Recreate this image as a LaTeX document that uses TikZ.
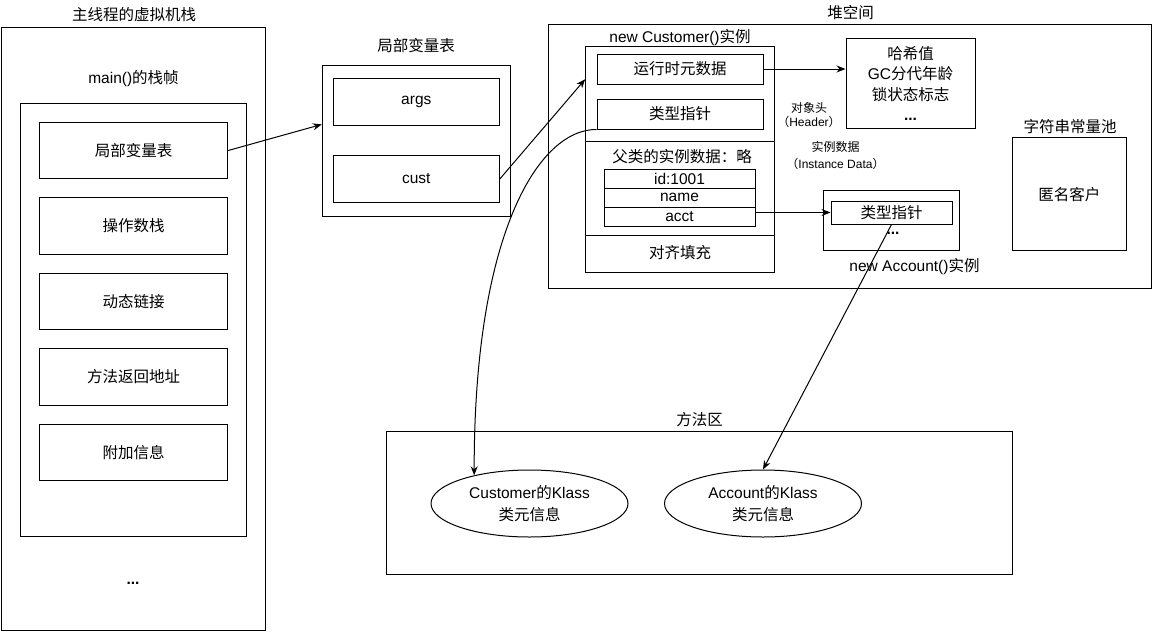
\documentclass[tikz,border=0pt]{standalone}
\usepackage{fontspec}
\setmainfont{Liberation Sans}
\newfontfamily\cjk{Noto Sans CJK SC}
\usepackage{tikz}
\usetikzlibrary{arrows.meta,shapes.geometric}

\begin{document}
\begin{tikzpicture}[x=1pt,y=-1pt,
		every node/.style={font=\fontsize{15.5}{18}\selectfont,inner sep=0pt},
		box/.style={draw,line width=1pt,inner sep=0pt},
		small/.style={font=\fontsize{12}{14.3}\selectfont,align=center},
		klass/.style={ellipse,draw,line width=1pt,minimum width=197pt,minimum height=67pt,
				align=center,font=\fontsize{15.5}{22.5}\selectfont},
		link/.style={line width=1pt,-{Stealth[length=9pt,width=7pt]}},
	]
	\def\zh#1{{\cjk #1}}
	\useasboundingbox (0,0) rectangle (1153,632);

	% stack of the main thread
	\node (stacktitle) at (134,15) {\zh{主线程的虚拟机栈}};
	\node[box,minimum width=264,minimum height=603] (stack) at (133.7,329.2) {};
	\node (frametitle) at (133.5,78.3) {main()\zh{的栈帧}};
	\node[box,minimum width=226,minimum height=433.4] (frame) at (133.7,320) {};
	\node[box,minimum width=188.4,minimum height=56.4] (lvt) at (133.5,150.5) {\zh{局部变量表}};
	\node[box,minimum width=188.4,minimum height=56.4] (opstack) at (133.5,226) {\zh{操作数栈}};
	\node[box,minimum width=188.4,minimum height=56.4] (dynlink) at (133.5,301.5) {\zh{动态链接}};
	\node[box,minimum width=188.4,minimum height=56.4] (retaddr) at (133.5,377) {\zh{方法返回地址}};
	\node[box,minimum width=188.4,minimum height=56.4] (extra) at (133.5,452.5) {\zh{附加信息}};
	\node (stackdots) at (133,583) {\textbf{...}};

	% local variable table
	\node (lvtitle) at (416,46) {\zh{局部变量表}};
	\node[box,minimum width=188,minimum height=150.3] (lvbox) at (416.3,140.9) {};
	\node[box,minimum width=166,minimum height=46.7] (args) at (416.3,102.3) {args};
	\node[box,minimum width=166,minimum height=46.7] (cust) at (416.3,179) {cust};

	% heap
	\node (heaptitle) at (850.6,12.7) {\zh{堆空间}};
	\node[box,minimum width=603,minimum height=264] (heap) at (849.5,156) {};
	\node (objtitle) at (680,37.7) {new Customer()\zh{实例}};
	\node[box,minimum width=188.6,minimum height=226] (obj) at (680,159.7) {};
	\node[box,minimum width=166,minimum height=30] (meta) at (680,69) {\zh{运行时元数据}};
	\node[box,minimum width=166,minimum height=30] (ptr) at (680,114) {\zh{类型指针}};
	\draw[line width=1pt] (obj.west |- 0,141) -- (obj.east |- 0,141);
	\node (super) at (682,156.7) {\zh{父类的实例数据：略}};
	\node[box,minimum width=151,minimum height=19] (id) at (679.5,178.7) {id:1001};
	\node[box,minimum width=151,minimum height=19] (name) at (679.5,197.8) {name};
	\node[box,minimum width=151,minimum height=19] (acct) at (679.5,216.8) {acct};
	\draw[line width=1pt] (obj.west |- 0,235) -- (obj.east |- 0,235);
	\node (pad) at (680,253) {\zh{对齐填充}};
	\node[small] (headerlbl) at (809,115) {\zh{对象头}\\\zh{（}Header\zh{）}};
	\node[small,font=\fontsize{12}{17.5}\selectfont] (datalbl) at (835.5,155.7) {\zh{实例数据}\\\zh{（}Instance Data\zh{）}};
	\node[box,minimum width=129,minimum height=90.2,align=center,font=\fontsize{15.5}{20.5}\selectfont] (hdr) at (910.5,83.6)
		{\zh{哈希值}\\GC\zh{分代年龄}\\\zh{锁状态标志}\\\textbf{...}};
	\node[box,minimum width=136,minimum height=60] (acc) at (891,220) {};
	\node[box,minimum width=121,minimum height=23] (aptr) at (891.5,212.5) {\zh{类型指针}};
	\node (accdots) at (893,233) {\textbf{...}};
	\node (acctitle) at (914.5,267) {new Account()\zh{实例}};
	\node (pooltitle) at (1070,126.4) {\zh{字符串常量池}};
	\node[box,minimum width=113.5,minimum height=113] (pool) at (1069.3,194.3) {\zh{匿名客户}};

	% method area
	\node (methodtitle) at (699.5,420) {\zh{方法区}};
	\node[box,minimum width=626,minimum height=143] (method) at (699,502.5) {};
	\node[klass] (cklass) at (529.5,503.5) {Customer\zh{的}Klass\\\zh{类元信息}};
	\node[klass] (aklass) at (763,503.5) {Account\zh{的}Klass\\\zh{类元信息}};

	% references
	\draw[link] (lvt.east) -- ([yshift=16.5pt]lvbox.west);
	\draw[link] (cust.east) -- ([yshift=-33pt]obj.north west);
	\draw[link] (meta.east) -- (meta.east -| hdr.west);
	\draw[link] (acct.east |- aptr.west) -- (aptr.west);
	\draw[link] (ptr.south west) .. controls (540,129) and (474,230) .. (cklass.153);
	\draw[link] (aptr.south) -- (aklass.north);
\end{tikzpicture}
\end{document}
